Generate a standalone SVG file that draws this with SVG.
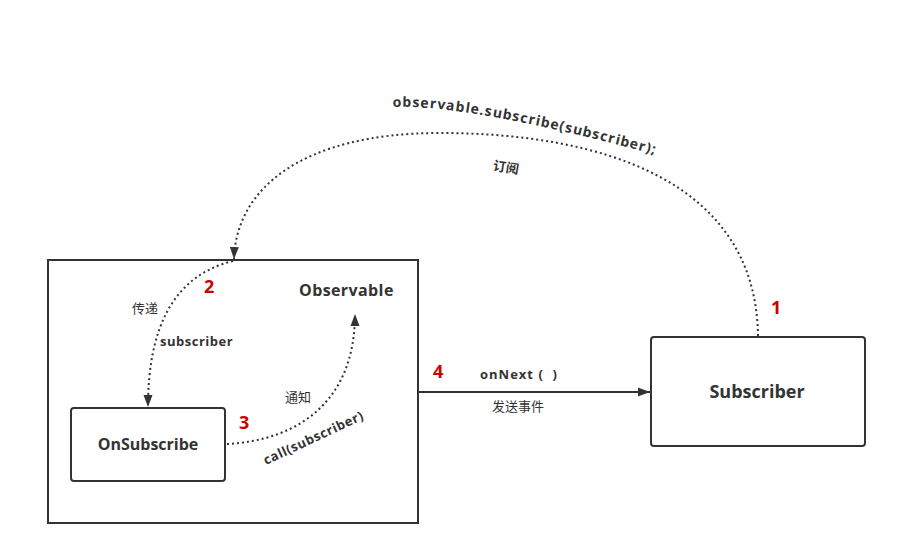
<svg xmlns="http://www.w3.org/2000/svg" width="897" height="555" viewBox="0 0 897 555">
<style>
.box{fill:#fff;stroke:#333;stroke-width:2}
.dot{fill:none;stroke:#333;stroke-width:2;stroke-dasharray:2 3}
.solid{fill:none;stroke:#333;stroke-width:2}
.b{font-family:"Open Sans","Liberation Sans",sans-serif;font-weight:bold;fill:#333}
.cn{font-family:"Noto Sans CJK SC",sans-serif;fill:#333;font-size:13px}
.num{font-family:"Open Sans","Liberation Sans",sans-serif;font-weight:bold;fill:#c00;font-size:18px}
</style>
<defs>
<marker id="ah" viewBox="0 0 12 10" refX="12" refY="5" markerWidth="12" markerHeight="10" markerUnits="userSpaceOnUse" orient="auto">
<path d="M0,0.5 L12,5 L0,9.5 Z" fill="#333"/>
</marker>
<path id="tp" d="M393,107 Q 470,104 664,157"/>
</defs>
<rect width="897" height="555" fill="#fff"/>
<g id="observable">
<rect class="box" x="48" y="260" width="370" height="263"/>
<text class="b" x="299" y="296" font-size="16" letter-spacing="0.4">Observable</text>
</g>
<g id="onsubscribe">
<rect class="box" x="71" y="408" width="154" height="73" rx="3"/>
<text class="b" x="148" y="450" font-size="16" text-anchor="middle">OnSubscribe</text>
</g>
<g id="subscriber">
<rect class="box" x="651" y="337" width="214" height="109" rx="3"/>
<text class="b" x="757" y="398" font-size="18" text-anchor="middle">Subscriber</text>
</g>
<g id="connectors">
<path class="dot" d="M758,336 C 756,180 600,133 440,133 C 300,133 236,190 234,259" marker-end="url(#ah)"/>
<path class="dot" d="M233,261 C 172,276 148,330 148,407" marker-end="url(#ah)"/>
<path class="dot" d="M227,444 C 300,440 355,400 355,314" marker-end="url(#ah)"/>
<path class="solid" d="M418,392 L650,392" marker-end="url(#ah)"/>
</g>
<g id="labels">
<text class="b" font-size="14" letter-spacing="1"><textPath href="#tp">observable.subscribe(subscriber);</textPath></text>
<text class="cn" x="493" y="172" transform="rotate(9 506 168)" font-weight="bold">订阅</text>
<text class="num" x="204" y="293">2</text>
<text class="cn" x="132" y="313">传递</text>
<text class="b" x="160" y="346" font-size="13" letter-spacing="0.5">subscriber</text>
<text class="cn" x="285" y="402">通知</text>
<text class="num" x="239" y="429">3</text>
<text class="b" x="266" y="465" font-size="13" letter-spacing="0.6" transform="rotate(-25 266 465)">call(subscriber)</text>
<text class="num" x="433" y="378">4</text>
<text class="b" x="480" y="379" font-size="13" letter-spacing="1" xml:space="preserve">onNext (  )</text>
<text class="cn" x="492" y="411" font-size="14">发送事件</text>
<text class="num" x="771" y="314">1</text>
</g>
</svg>
